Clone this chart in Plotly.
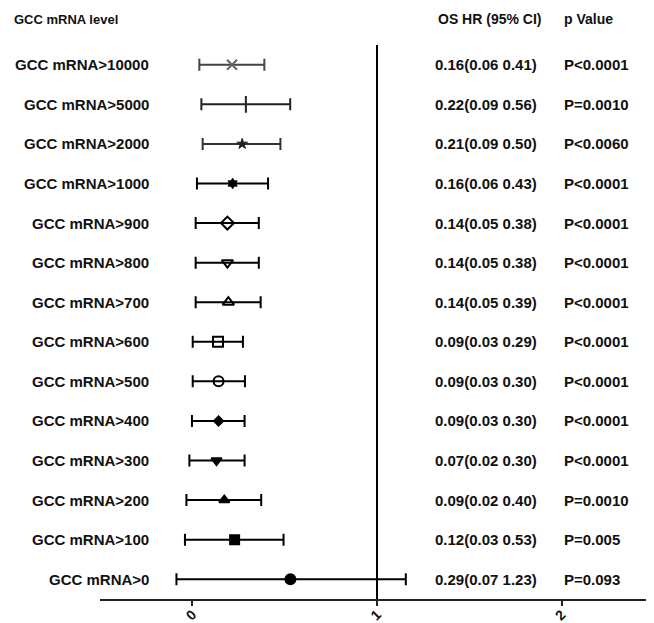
import plotly.graph_objects as go

labels = ["GCC mRNA>10000", "GCC mRNA>5000", "GCC mRNA>2000", "GCC mRNA>1000",
          "GCC mRNA>900", "GCC mRNA>800", "GCC mRNA>700", "GCC mRNA>600",
          "GCC mRNA>500", "GCC mRNA>400", "GCC mRNA>300", "GCC mRNA>200",
          "GCC mRNA>100", "GCC mRNA>0"]
hr_text = ["0.16(0.06 0.41)", "0.22(0.09 0.56)", "0.21(0.09 0.50)", "0.16(0.06 0.43)",
           "0.14(0.05 0.38)", "0.14(0.05 0.38)", "0.14(0.05 0.39)", "0.09(0.03 0.29)",
           "0.09(0.03 0.30)", "0.09(0.03 0.30)", "0.07(0.02 0.30)", "0.09(0.02 0.40)",
           "0.12(0.03 0.53)", "0.29(0.07 1.23)"]
p_text = ["P<0.0001", "P=0.0010", "P<0.0060", "P<0.0001", "P<0.0001", "P<0.0001",
          "P<0.0001", "P<0.0001", "P<0.0001", "P<0.0001", "P<0.0001", "P=0.0010",
          "P=0.005", "P=0.093"]
# values as drawn in the picture
point = [0.215, 0.29, 0.27, 0.218, 0.19, 0.19, 0.195, 0.139, 0.142, 0.142, 0.131, 0.173, 0.229, 0.531]
lower = [0.038, 0.049, 0.056, 0.025, 0.018, 0.018, 0.018, 0.002, 0.002, -0.002, -0.016, -0.032, -0.04, -0.086]
upper = [0.39, 0.53, 0.477, 0.41, 0.36, 0.36, 0.37, 0.274, 0.285, 0.283, 0.283, 0.373, 0.494, 1.156]
x_ticks = [0, 1, 2]

symbols = ["x-thin", "line-ns", "star", "hexagram", "diamond-open", "triangle-down-open",
           "triangle-up-open", "square-open", "circle-open", "diamond", "triangle-down",
           "triangle-up", "square", "circle"]
sizes = [10, 12, 8, 8, 10, 10, 10, 10, 10, 7, 9, 9, 9, 10]
mcolors = ["#666666", "#222222", "#222222"] + ["#000000"] * 11
ecolors = ["#444444", "#222222", "#333333"] + ["#000000"] * 11

FONT = "Liberation Sans, Arial, sans-serif"
fig = go.Figure()
for i, lab in enumerate(labels):
    fig.add_trace(go.Scatter(
        x=[point[i]], y=[lab], mode="markers", showlegend=False,
        marker=dict(symbol=symbols[i], size=sizes[i], color=mcolors[i],
                    line=dict(width=2 if i < 2 or i > 3 else 1, color=mcolors[i])),
        error_x=dict(type="data", symmetric=False,
                     array=[upper[i] - point[i]], arrayminus=[point[i] - lower[i]],
                     color=ecolors[i], thickness=2, width=6),
    ))

# plot area spans 554 px wide
def px(xpix):
    return (xpix - 100) / 554.0

row_font = dict(family=FONT, size=15, color="#111111", weight="bold")
annotations = []
for i, lab in enumerate(labels):
    annotations.append(dict(x=px(151), xref="paper", y=lab, yref="y", text=lab,
                            xanchor="right", showarrow=False, font=row_font))
    annotations.append(dict(x=px(433), xref="paper", y=lab, yref="y", text=hr_text[i],
                            xanchor="left", showarrow=False, font=row_font))
    annotations.append(dict(x=px(562), xref="paper", y=lab, yref="y", text=p_text[i],
                            xanchor="left", showarrow=False, font=row_font))

hy = 1 + 26 / 554.0
annotations += [
    dict(x=px(12), xref="paper", y=hy, yref="paper", text="GCC mRNA level",
         xanchor="left", yanchor="middle", showarrow=False,
         font=dict(family=FONT, size=13, color="#111111", weight="bold")),
    dict(x=px(436), xref="paper", y=hy, yref="paper", text="OS HR (95% CI)",
         xanchor="left", yanchor="middle", showarrow=False,
         font=dict(family=FONT, size=14, color="#111111", weight="bold")),
    dict(x=px(562), xref="paper", y=hy, yref="paper", text="p Value",
         xanchor="left", yanchor="middle", showarrow=False,
         font=dict(family=FONT, size=14, color="#111111", weight="bold")),
]

fig.add_shape(type="line", x0=1, x1=1, xref="x", y0=0, y1=1, yref="paper",
              line=dict(color="black", width=2))

fig.update_layout(
    width=646, height=615,
    margin=dict(l=92, r=0, t=37, b=24, autoexpand=False),
    paper_bgcolor="white", plot_bgcolor="white",
    annotations=annotations,
    xaxis=dict(range=[-0.5, 2.5], tickvals=x_ticks, ticktext=[str(v) for v in x_ticks],
               showgrid=False, zeroline=False, showline=True, linecolor="#222222",
               linewidth=2, ticks="outside", ticklen=5, tickwidth=2, tickcolor="#222222",
               tickangle=-45, automargin=False, ticklabelstandoff=-5,
               tickfont=dict(family=FONT, size=14, color="#111111", weight="bold")),
    yaxis=dict(categoryorder="array", categoryarray=labels[::-1], range=[-0.5, 13.5],
               showgrid=False, zeroline=False, showline=False, showticklabels=False,
               ticks="", automargin=False),
)

fig.write_html("out.html")
